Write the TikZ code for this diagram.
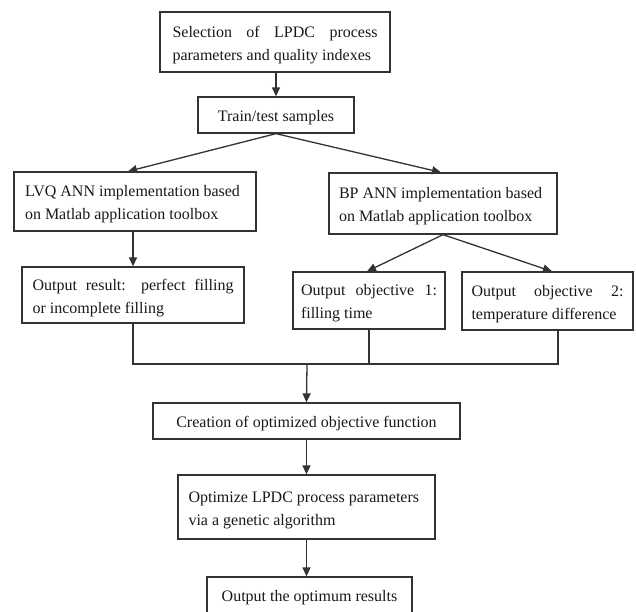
\documentclass[tikz,border=0pt]{standalone}
\usepackage{fontspec}
\setmainfont{Liberation Serif}
\usetikzlibrary{arrows.meta}
\begin{document}
\begin{tikzpicture}[x=1pt,y=-1pt,
  box/.style={draw=black!80, line width=1.3pt, fill=white, text=black!90,
    font=\fontsize{16}{23}\selectfont, inner ysep=0pt, inner xsep=0pt, anchor=center,
    execute at begin node={\rule{0pt}{17pt}}},
  arr/.style={draw=black!80, line width=1.3pt, -{Triangle[length=9pt,width=8pt]}},
  ln/.style={draw=black!80, line width=1.3pt}]
\useasboundingbox (0,0) rectangle (636,611);
\fill[white] (0,0) rectangle (636,611);

\node[box, minimum width=230, minimum height=60, text width=205, align=justify] (sel) at (275,42)
  {Selection of LPDC process\linebreak parameters and quality indexes};
\node[box, minimum width=156, minimum height=36] (train) at (276,115) {Train/test samples};
\node[box, minimum width=242, minimum height=59, text width=220, align=justify] (lvq) at (135,201.5)
  {LVQ ANN implementation based\\on Matlab application toolbox};
\node[box, minimum width=228, minimum height=61, text width=208, align=justify] (bp) at (443,203.5)
  {BP ANN implementation based\\on Matlab application toolbox};
\node[box, minimum width=222, minimum height=56, text width=201, align=justify] (res) at (133,295)
  {Output result: perfect filling\linebreak or incomplete filling};
\node[box, minimum width=152, minimum height=57, text width=136, align=justify] (obj1) at (369,300.5)
  {Output objective 1:\linebreak filling time};
\node[box, minimum width=171, minimum height=58, text width=152, align=justify] (obj2) at (547.5,301)
  {Output objective 2:\linebreak temperature difference};
\node[box, minimum width=307, minimum height=36] (cre) at (306.5,421) {Creation of optimized objective function};
\node[box, minimum width=257, minimum height=64, text width=236, align=justify] (opt) at (306.5,507)
  {Optimize LPDC process parameters\\via a genetic algorithm};
\node[box, minimum width=205, minimum height=36] (outp) at (309.5,595) {Output the optimum results};

\draw[arr] (train.north |- sel.south) -- (train.north);
\draw[arr] (train.south) -- ([xshift=-7pt]lvq.north);
\draw[arr] (train.south) -- ([xshift=-2pt]bp.north);
\draw[arr] (res.north |- lvq.south) -- (res.north);
\draw[arr] (bp.south) -- ([xshift=-2pt]obj1.north);
\draw[arr] (bp.south) -- ([xshift=4.5pt]obj2.north);
\coordinate (j) at (307,364);
\coordinate (o2) at ([xshift=10.5pt]obj2.south);
\draw[ln] (res.south) |- (o2 |- j) -- (o2);
\draw[ln] (obj1.south) -- (obj1.south |- j);
\draw[arr] (j) -- (cre.north);
\draw[arr] (cre.south) -- (opt.north);
\draw[arr] (opt.south) -- (opt.south |- outp.north);
\end{tikzpicture}
\end{document}
